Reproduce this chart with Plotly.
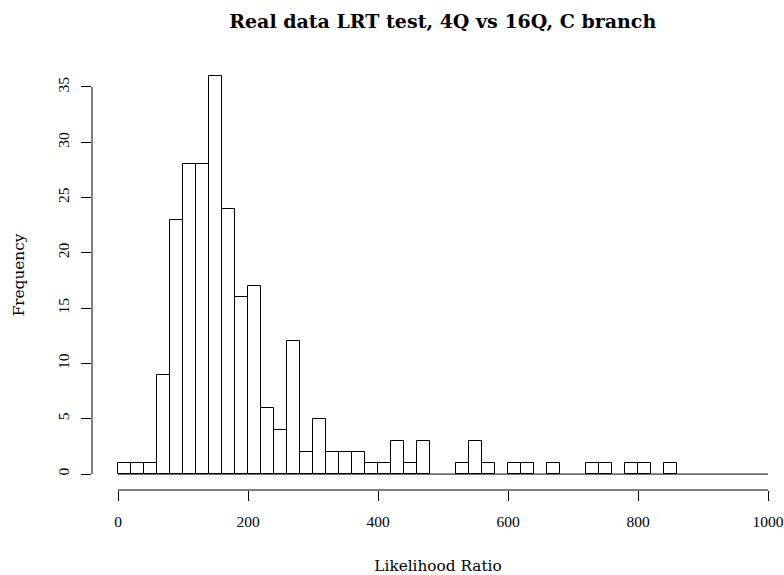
import plotly.graph_objects as go

# Histogram of likelihood-ratio statistics, bins of width 20 from 0 to 1000
bin_width = 20
bin_starts = list(range(0, 1000, bin_width))
counts = [
    1, 1, 1, 9, 23, 28, 28, 36, 24, 16,
    17, 6, 4, 12, 2, 5, 2, 2, 2, 1,
    1, 3, 1, 3, 0, 0, 1, 3, 1, 0,
    1, 1, 0, 1, 0, 0, 1, 1, 0, 1,
    1, 0, 1, 0, 0, 0, 0, 0, 0, 0,
]
x_ticks = [0, 200, 400, 600, 800, 1000]
y_ticks = [0, 5, 10, 15, 20, 25, 30, 35]

title_text = "Real data LRT test, 4Q vs 16Q, C branch"
x_label = "Likelihood Ratio"
y_label = "Frequency"

TICK_FONT = "Liberation Serif"
TITLE_FONT = "DejaVu Serif"

centers = [s + bin_width / 2 for s in bin_starts]
nonzero = [(c, n) for c, n in zip(centers, counts) if n > 0]

fig = go.Figure()

# zero-height bins collapse to a flat line along the baseline
fig.add_trace(go.Scatter(
    x=[bin_starts[0], bin_starts[-1] + bin_width], y=[0, 0],
    mode="lines", line=dict(color="black", width=1),
    hoverinfo="skip", showlegend=False,
))

fig.add_trace(go.Bar(
    x=[c for c, _ in nonzero], y=[n for _, n in nonzero],
    width=bin_width,
    marker=dict(color="white", line=dict(color="black", width=1)),
    showlegend=False,
))

# R-style axes: lines only span first to last tick
fig.add_shape(type="line", xref="x", yref="paper",
              x0=x_ticks[0], x1=x_ticks[-1], y0=0, y1=0,
              line=dict(color="black", width=1))
fig.add_shape(type="line", xref="paper", yref="y",
              x0=0, x1=0, y0=y_ticks[0], y1=y_ticks[-1],
              line=dict(color="black", width=1))

fig.update_layout(
    width=784, height=575,
    margin=dict(l=91.5, r=0, t=60, b=85),
    plot_bgcolor="white", paper_bgcolor="white",
    font=dict(family=TICK_FONT, size=15.5, color="black"),
    title=dict(
        text="<b>" + title_text + "</b>",
        x=442.7 / 784, xanchor="center",
        y=1 - 21 / 575, yanchor="middle",
        font=dict(family=TITLE_FONT, size=19, color="black"),
    ),
    bargap=0,
)

fig.update_xaxes(
    range=[-40, 1024.6],
    tickmode="array", tickvals=x_ticks, ticktext=[str(v) for v in x_ticks],
    ticks="outside", ticklen=10, tickwidth=1, tickcolor="black",
    showline=False, showgrid=False, zeroline=False,
    ticklabelstandoff=7,
    title=dict(text=x_label, standoff=31, font=dict(family=TITLE_FONT, size=15.3)),
)
fig.update_yaxes(
    range=[-1.44, 37.44],
    tickmode="array", tickvals=y_ticks, ticktext=[str(v) for v in y_ticks],
    tickangle=-90,
    ticks="outside", ticklen=10, tickwidth=1, tickcolor="black",
    showline=False, showgrid=False, zeroline=False,
    ticklabelstandoff=6,
    title=dict(text=y_label, standoff=26, font=dict(family=TITLE_FONT, size=15.3)),
)

fig.write_html("out.html")
